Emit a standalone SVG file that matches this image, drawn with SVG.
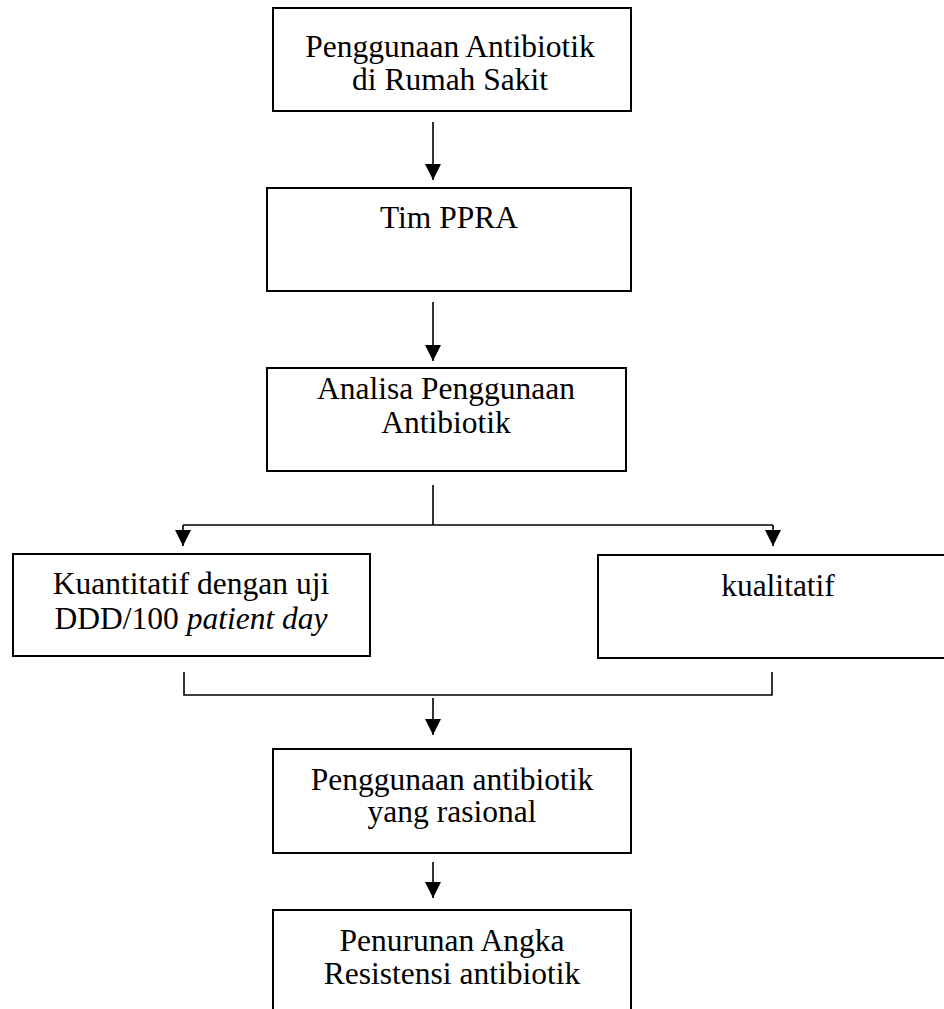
<svg xmlns="http://www.w3.org/2000/svg" width="944" height="1009" viewBox="0 0 944 1009">
<defs>
<style>
.box{fill:#fff;stroke:#000;stroke-width:2}
.t{font-family:"Liberation Serif","Times New Roman",serif;font-size:31.5px;fill:#000;text-anchor:middle}
.c{fill:none;stroke:#000;stroke-width:1.6}
</style>
<marker id="ah" markerWidth="16" markerHeight="16" viewBox="0 0 16 16" refX="16" refY="8" orient="auto" markerUnits="userSpaceOnUse">
<path d="M0,0 L16,8 L0,16 Z" fill="#000"/>
</marker>
</defs>
<rect width="944" height="1009" fill="#fff"/>
<g id="connectors">
<line class="c" x1="433" y1="122" x2="433" y2="180" marker-end="url(#ah)"/>
<line class="c" x1="433" y1="302" x2="433" y2="361" marker-end="url(#ah)"/>
<line class="c" x1="433" y1="485" x2="433" y2="525"/>
<line class="c" x1="183" y1="525" x2="773" y2="525"/>
<line class="c" x1="183" y1="525" x2="183" y2="546" marker-end="url(#ah)"/>
<line class="c" x1="773" y1="525" x2="773" y2="546" marker-end="url(#ah)"/>
<polyline class="c" points="184,672 184,695 772,695 772,672"/>
<line class="c" x1="433" y1="698" x2="433" y2="735" marker-end="url(#ah)"/>
<line class="c" x1="433" y1="862" x2="433" y2="898" marker-end="url(#ah)"/>
</g>
<g id="n1">
<rect class="box" x="273" y="8" width="358" height="103"/>
<text class="t" x="450" y="57">Penggunaan Antibiotik</text>
<text class="t" x="450" y="90">di Rumah Sakit</text>
</g>
<g id="n2">
<rect class="box" x="267" y="188" width="364" height="103"/>
<text class="t" x="449" y="228">Tim PPRA</text>
</g>
<g id="n3">
<rect class="box" x="267" y="368" width="359" height="103"/>
<text class="t" x="446" y="399">Analisa Penggunaan</text>
<text class="t" x="446" y="433">Antibiotik</text>
</g>
<g id="n4">
<rect class="box" x="13" y="554" width="357" height="102"/>
<text class="t" x="191" y="594">Kuantitatif dengan uji</text>
<text class="t" x="191" y="629">DDD/100 <tspan font-style="italic">patient day</tspan></text>
</g>
<g id="n5">
<rect class="box" x="598" y="555" width="360" height="103"/>
<text class="t" x="778" y="596">kualitatif</text>
</g>
<g id="n6">
<rect class="box" x="273" y="749" width="358" height="104"/>
<text class="t" x="452" y="790">Penggunaan antibiotik</text>
<text class="t" x="452" y="822">yang rasional</text>
</g>
<g id="n7">
<rect class="box" x="273" y="910" width="358" height="120"/>
<text class="t" x="452" y="951">Penurunan Angka</text>
<text class="t" x="452" y="984">Resistensi antibiotik</text>
</g>
</svg>
